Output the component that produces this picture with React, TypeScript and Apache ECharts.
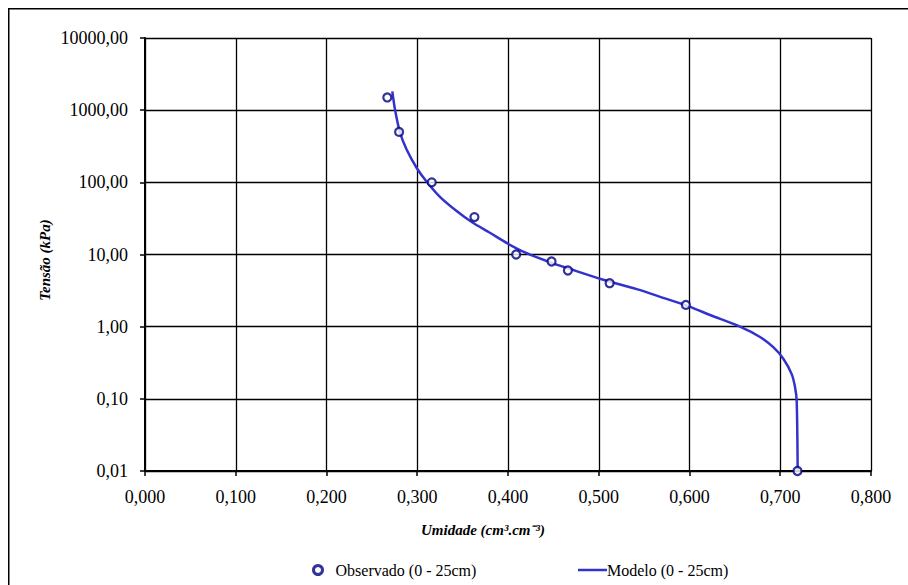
import React, { useEffect, useRef } from "react";
import * as echarts from "echarts";

// Observed points: moisture (cm3/cm3) vs tension (kPa)
const observedX = [0.267, 0.28, 0.316, 0.363, 0.409, 0.448, 0.466, 0.512, 0.596, 0.719];
const observedY = [1500, 500, 100, 33, 10, 8, 6, 4, 2, 0.01];

// Model curve
const modelX = [
  0.2725, 0.2755, 0.281, 0.2884, 0.2994, 0.3104, 0.325, 0.3434, 0.36, 0.38, 0.4, 0.42, 0.445,
  0.4683, 0.505, 0.5418, 0.571, 0.6006, 0.6226, 0.6556, 0.6777, 0.6923, 0.7034, 0.7126, 0.7163,
  0.7181, 0.7192,
];
const modelY = [
  1820, 1020, 490, 282, 158, 102, 63, 40, 28.2, 20, 14.1, 10.5, 7.9, 6.3, 4.47, 3.31, 2.51, 1.88,
  1.45, 1.0, 0.72, 0.52, 0.36, 0.22, 0.145, 0.095, 0.01,
];

const observedName = "Observado (0 - 25cm)";
const modelName = "Modelo (0 - 25cm)";
const xTitle = "Umidade (cm³.cm⁻³)";
const yTitle = "Tensão (kPa)";

const SERIF = "Liberation Serif";

export default function App() {
  const ref = useRef<HTMLDivElement>(null);

  useEffect(() => {
    if (!ref.current) return;
    const chart = echarts.init(ref.current, null, { renderer: "svg" });
    const observed = observedX.map((x, i) => [x, observedY[i]]);
    const model = modelX.map((x, i) => [x, modelY[i]]);

    chart.setOption({
      animation: false,
      backgroundColor: "#ffffff",
      textStyle: { fontFamily: SERIF },
      grid: { left: 145, top: 38, right: 37, bottom: 114 },
      xAxis: {
        type: "value",
        min: 0,
        max: 0.8,
        interval: 0.1,
        axisLine: { onZero: false, lineStyle: { color: "#000", width: 2 } },
        axisTick: { show: true, length: 5, lineStyle: { color: "#000", width: 1.5 } },
        axisLabel: {
          margin: 17,
          color: "#000",
          fontFamily: SERIF,
          fontSize: 18,
          formatter: (v: number) => v.toFixed(3).replace(".", ","),
        },
        splitLine: { show: true, lineStyle: { color: "#000", width: 1.3 } },
      },
      yAxis: {
        type: "log",
        logBase: 10,
        min: 0.01,
        max: 10000,
        axisLine: { onZero: false, lineStyle: { color: "#000", width: 2 } },
        axisTick: { show: true, length: 5, lineStyle: { color: "#000", width: 1.5 } },
        minorTick: { show: false },
        axisLabel: {
          margin: 17,
          color: "#000",
          fontFamily: SERIF,
          fontSize: 18,
          formatter: (v: number) => Number(v).toFixed(2).replace(".", ","),
        },
        splitLine: { show: true, lineStyle: { color: "#000", width: 1.3 } },
      },
      legend: [
        {
          data: [
            {
              name: observedName,
              icon: "circle",
              itemStyle: { color: "#ffffff", borderColor: "#000080", borderWidth: 3 },
            },
          ],
          left: 312,
          top: 562,
          padding: 0,
          itemWidth: 9,
          itemHeight: 9,
          itemGap: 0,
          textStyle: { fontFamily: SERIF, fontSize: 16, color: "#000", padding: [0, 0, 0, 8] },
        },
        {
          data: [
            {
              name: modelName,
              icon: "rect",
              itemStyle: { color: "#3333CC", borderWidth: 0 },
            },
          ],
          left: 578,
          top: 562,
          padding: 0,
          itemWidth: 29,
          itemHeight: 2.5,
          itemGap: 0,
          textStyle: { fontFamily: SERIF, fontSize: 16, color: "#000", padding: [0, 0, 0, -5] },
        },
      ],
      graphic: [
        {
          type: "rect",
          silent: true,
          shape: { x: 8.75, y: 8.75, width: 1000, height: 1000 },
          style: { fill: "none", stroke: "#000", lineWidth: 1.5 },
        },
        {
          type: "text",
          x: 483,
          y: 530,
          silent: true,
          style: {
            text: xTitle,
            fontFamily: SERIF,
            fontSize: 15,
            fontWeight: "bold",
            fontStyle: "italic",
            fill: "#000",
            align: "center",
            verticalAlign: "middle",
          },
        },
        {
          type: "text",
          x: 45,
          y: 260,
          rotation: Math.PI / 2,
          silent: true,
          style: {
            text: yTitle,
            fontFamily: SERIF,
            fontSize: 15,
            fontWeight: "bold",
            fontStyle: "italic",
            fill: "#000",
            align: "center",
            verticalAlign: "middle",
          },
        },
      ],
      series: [
        {
          name: modelName,
          type: "line",
          data: model,
          symbol: "none",
          smooth: 0.3,
          lineStyle: { color: "#3333CC", width: 2.5 },
          itemStyle: { color: "#3333CC" },
          z: 2,
        },
        {
          name: observedName,
          type: "scatter",
          data: observed,
          symbol: "circle",
          symbolSize: 8,
          itemStyle: { color: "#ffffff", borderColor: "#000080", borderWidth: 2.2 },
          z: 3,
        },
      ],
    });

    return () => chart.dispose();
  }, []);

  return (
    <div
      ref={ref}
      style={{ position: "absolute", left: 0, top: 0, width: 908, height: 585 }}
    />
  );
}
